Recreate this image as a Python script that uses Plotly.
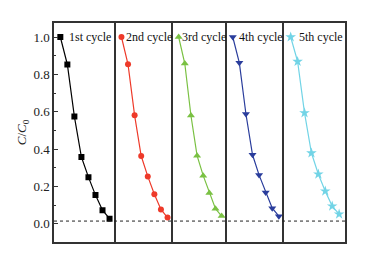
import plotly.graph_objects as go
from plotly.subplots import make_subplots

time_min = [0, 10, 20, 30, 40, 50, 60, 70]
cycle_labels = ["1st cycle", "2nd cycle", "3rd cycle", "4th cycle", "5th cycle"]
cycle1 = [1.00, 0.853, 0.574, 0.358, 0.250, 0.154, 0.073, 0.028]
cycle2 = [1.00, 0.854, 0.581, 0.363, 0.254, 0.159, 0.077, 0.034]
cycle3 = [1.00, 0.858, 0.580, 0.365, 0.258, 0.165, 0.081, 0.042]
cycle4 = [1.00, 0.862, 0.588, 0.370, 0.261, 0.168, 0.084, 0.041]
cycle5 = [1.00, 0.869, 0.594, 0.379, 0.266, 0.175, 0.095, 0.052]
baseline = 0.015

series = [cycle1, cycle2, cycle3, cycle4, cycle5]
colors = ["#000000", "#ee3a2a", "#7ac143", "#2a3d9c", "#72d4e6"]
symbols = ["square", "circle", "triangle-up", "triangle-down", "star"]
sizes = [6, 6, 7, 7, 8]

fig = make_subplots(rows=1, cols=5, shared_yaxes=True, horizontal_spacing=0,
                    column_widths=[63, 59, 55, 59, 62])

for i, ys in enumerate(series):
    fig.add_trace(go.Scatter(x=time_min, y=ys, mode="lines+markers",
                             line=dict(color=colors[i], width=1.2),
                             marker=dict(symbol=symbols[i], size=sizes[i], color=colors[i]),
                             showlegend=False), row=1, col=i + 1)
    fig.update_xaxes(range=[-9, 78.5], showticklabels=False, ticks="", showgrid=False,
                     zeroline=False, showline=True, mirror=True, linecolor="#333333",
                     linewidth=1.5, row=1, col=i + 1)
    if i == 0:
        fig.update_yaxes(range=[-0.097, 1.075], tickvals=[0, 0.2, 0.4, 0.6, 0.8, 1.0],
                         ticktext=["0.0", "0.2", "0.4", "0.6", "0.8", "1.0"],
                         ticks="inside", ticklen=4, tickcolor="#333333",
                         minor=dict(dtick=0.1, ticks="inside", ticklen=2, tickcolor="#333333"),
                         showgrid=False, zeroline=False, showline=True, mirror=False,
                         linecolor="#333333", linewidth=1.5,
                         tickfont=dict(family="Liberation Serif", size=13, color="#222222"),
                         title=dict(text="<i>C</i>/<i>C</i><sub>0</sub>", standoff=4,
                                    font=dict(family="Liberation Serif", size=13, color="#222222")),
                         row=1, col=1)
    else:
        fig.update_yaxes(showticklabels=False, ticks="", showgrid=False, zeroline=False,
                         showline=True, mirror=(i == 4), linecolor="#333333", linewidth=1.5,
                         row=1, col=i + 1)

fig.add_shape(type="line", xref="paper", yref="y", x0=0, x1=1, y0=baseline, y1=baseline,
              line=dict(color="#222222", width=1, dash="dot"))

label_px = [83.5, 144, 200.5, 259, 320.5]
for lbl, px in zip(cycle_labels, label_px):
    fig.add_annotation(text=lbl, xref="paper", yref="paper", x=(px - 47) / 298, y=0.935,
                       showarrow=False, xanchor="center", yanchor="middle",
                       font=dict(family="Liberation Serif", size=12, color="#111111"))

fig.update_layout(width=361, height=249, margin=dict(l=39, r=24, t=15, b=15),
                  plot_bgcolor="white", paper_bgcolor="white")

fig.write_html("out.html")
